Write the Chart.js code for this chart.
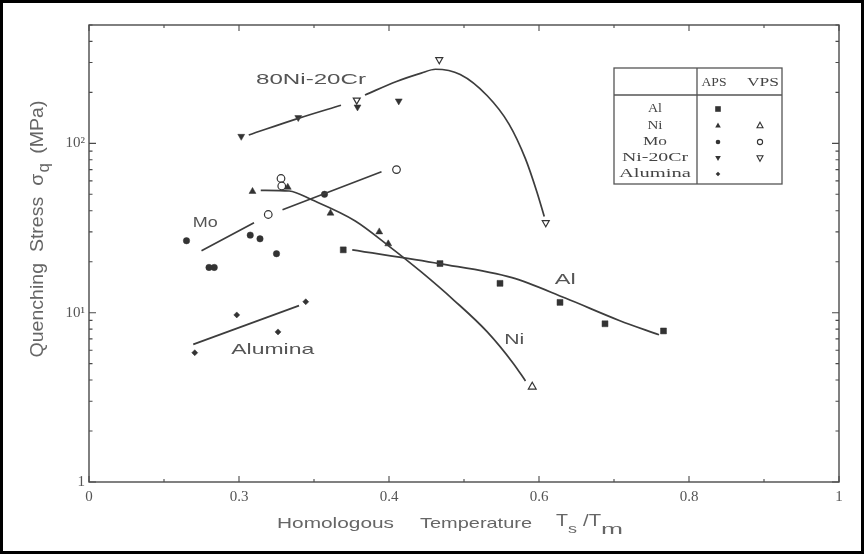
<!DOCTYPE html>
<html>
<head>
<meta charset="utf-8">
<script src="https://cdn.jsdelivr.net/npm/chart.js@4.4.1/dist/chart.umd.min.js"></script>
<style>
html,body{margin:0;padding:0;background:#fff;}
canvas{display:block;}
</style>
</head>
<body>
<canvas id="c" width="864" height="554"></canvas>
<script>
// ---------------- data ----------------
const xTickValues = [0, 0.2, 0.4, 0.6, 0.8, 1];
const xTickLabels = ['0', '0.3', '0.4', '0.6', '0.8', '1'];
const yTickValues = [1, 10, 100];
const yTickLabels = ['1', '10\u00B9', '10\u00B2'];

// Ni-20Cr
const niCrAPS_x = [0.203, 0.279, 0.358, 0.413];
const niCrAPS_y = [110, 142, 164, 178];
const niCrVPS_x = [0.357, 0.467, 0.609];
const niCrVPS_y = [180, 312, 34];
const niCrFit_x = [0.213, 0.28, 0.336, 0.35, 0.368, 0.41, 0.443, 0.462, 0.495, 0.531, 0.56, 0.582, 0.597, 0.607];
const niCrFit_y = [112, 141, 168, null, 193, 232, 260, 274, 255, 191, 130, 81, 52, 37];

// Ni
const niAPS_x = [0.218, 0.265, 0.322, 0.387, 0.399];
const niAPS_y = [52, 55, 38.7, 30, 25.5];
const niVPS_x = [0.591];
const niVPS_y = [3.65];
const niFit_x = [0.229, 0.267, 0.297, 0.355, 0.399, 0.443, 0.487, 0.531, 0.566, 0.582];
const niFit_y = [52.8, 52.3, 46.4, 34.8, 24.9, 17.4, 11.8, 7.7, 5.0, 3.95];

// Mo
const moAPS_x = [0.130, 0.160, 0.167, 0.215, 0.228, 0.250, 0.314];
const moAPS_y = [26.6, 18.5, 18.5, 28.7, 27.3, 22.3, 50];
const moVPS_x = [0.239, 0.256, 0.257, 0.410];
const moVPS_y = [38, 62, 56, 70];
const moFit_x = [0.150, 0.220, 0.235, 0.258, 0.390];
const moFit_y = [23.2, 34, null, 40.5, 68];

// Al
const alAPS_x = [0.339, 0.468, 0.548, 0.628, 0.688, 0.766];
const alAPS_y = [23.5, 19.5, 14.9, 11.5, 8.6, 7.8];
const alFit_x = [0.351, 0.467, 0.564, 0.635, 0.707, 0.760];
const alFit_y = [23.5, 19.5, 16.1, 12.2, 9.0, 7.4];

// Alumina
const aluAPS_x = [0.141, 0.197, 0.252, 0.289];
const aluAPS_y = [5.8, 9.7, 7.7, 11.6];
const aluFit_x = [0.139, 0.280];
const aluFit_y = [6.5, 11.0];

// curve labels (anchored in data units)
const curveLabels = ['80Ni-20Cr', 'Mo', 'Alumina', 'Ni', 'Al'];
const curveLabel_x = [0.296, 0.155, 0.245, 0.567, 0.635];
const curveLabel_y = [237, 33.9, 6.0, 6.9, 15.6];

// legend table rows
const legendRows = ['Al', 'Ni', 'Mo', 'Ni-20Cr', 'Alumina'];
const legendAPS = ['rect', 'up', 'circle', 'down', 'diamond'];
const legendVPS = [null, 'up', 'circle', 'down', null];

// ---------------- styling ----------------
const INK = '#333333';
const LINE = '#3d3d3d';
const TEXT = '#555555';

const pts = (xs, ys) => xs.map((x, i) => ({x: x, y: ys[i]}));
const findIdx = (arr, v) => arr.findIndex(t => Math.abs(t - v) < 1e-9 * Math.max(1, Math.abs(t)));

function fitLine(xs, ys) {
  return {
    type: 'scatter', data: pts(xs, ys), showLine: true, spanGaps: false,
    borderColor: LINE, borderWidth: 1.7, pointRadius: 0, fill: false,
    cubicInterpolationMode: 'monotone'
  };
}
function markers(xs, ys, style, filled, radius, rotation) {
  return {
    type: 'scatter', data: pts(xs, ys), showLine: false,
    pointStyle: style, pointRotation: rotation || 0, pointRadius: radius,
    pointBackgroundColor: filled ? INK : '#ffffff',
    pointBorderColor: INK, pointBorderWidth: filled ? 0.5 : 1.2
  };
}

function stretchText(ctx, str, cx, cy, font, targetW, align) {
  ctx.save();
  ctx.font = font;
  const w = ctx.measureText(str).width;
  const sx = targetW ? targetW / w : 1.45;
  ctx.translate(cx, cy);
  ctx.scale(sx, 1);
  ctx.textAlign = align || 'center';
  ctx.textBaseline = 'middle';
  ctx.fillText(str, 0, 0);
  ctx.restore();
  return w * sx;
}

function drawMarker(ctx, style, filled, x, y, r) {
  ctx.save();
  ctx.beginPath();
  if (style === 'rect') ctx.rect(x - r, y - r, 2 * r, 2 * r);
  else if (style === 'circle') ctx.arc(x, y, r, 0, Math.PI * 2);
  else if (style === 'up') { ctx.moveTo(x, y - r * 1.1); ctx.lineTo(x + r, y + r * 0.75); ctx.lineTo(x - r, y + r * 0.75); ctx.closePath(); }
  else if (style === 'down') { ctx.moveTo(x, y + r * 1.1); ctx.lineTo(x + r, y - r * 0.75); ctx.lineTo(x - r, y - r * 0.75); ctx.closePath(); }
  else if (style === 'diamond') { ctx.moveTo(x, y - r); ctx.lineTo(x + r, y); ctx.lineTo(x, y + r); ctx.lineTo(x - r, y); ctx.closePath(); }
  if (filled) { ctx.fillStyle = INK; ctx.fill(); }
  else { ctx.fillStyle = '#fff'; ctx.fill(); ctx.lineWidth = 1.1; ctx.strokeStyle = INK; ctx.stroke(); }
  ctx.restore();
}

const decor = {
  id: 'decor',
  beforeDraw(chart) {
    const ctx = chart.ctx;
    ctx.save();
    ctx.fillStyle = '#fff';
    ctx.fillRect(0, 0, chart.width, chart.height);
    ctx.restore();
  },
  afterDraw(chart) {
    const ctx = chart.ctx;
    const a = chart.chartArea;
    const xs = chart.scales.x, ys = chart.scales.y;
    ctx.save();
    // frame
    ctx.strokeStyle = '#4a4a4a';
    ctx.lineWidth = 1.4;
    ctx.strokeRect(a.left, a.top, a.right - a.left, a.bottom - a.top);
    // inward ticks, x
    ctx.lineWidth = 1.1;
    for (let k = 0; k <= 10; k++) {
      const v = k / 10;
      const px = xs.getPixelForValue(v);
      const len = (k % 2 === 0) ? 6 : 3;
      ctx.beginPath();
      ctx.moveTo(px, a.bottom); ctx.lineTo(px, a.bottom - len);
      ctx.moveTo(px, a.top); ctx.lineTo(px, a.top + len);
      ctx.stroke();
    }
    // x tick labels (positioned by the x scale)
    ctx.fillStyle = '#555';
    ctx.font = '15px "Liberation Serif"';
    ctx.textAlign = 'center';
    ctx.textBaseline = 'top';
    for (let i = 0; i < xTickValues.length; i++) {
      ctx.fillText(xTickLabels[i], xs.getPixelForValue(xTickValues[i]), a.bottom + 8);
    }
    // inward ticks, y (log)
    for (let d = 1; d <= 100; d *= 10) {
      for (let m = 1; m <= 9; m++) {
        const v = d * m;
        if (v > ys.max) break;
        const py = ys.getPixelForValue(v);
        const len = (m === 1) ? 7 : 3.5;
        ctx.beginPath();
        ctx.moveTo(a.left, py); ctx.lineTo(a.left + len, py);
        ctx.moveTo(a.right, py); ctx.lineTo(a.right - len, py);
        ctx.stroke();
      }
    }
    // curve labels
    ctx.fillStyle = TEXT;
    const lblFont = ['15px "Liberation Sans"', '14px "Liberation Sans"', '15px "Liberation Sans"', '15px "Liberation Sans"', '15px "Liberation Sans"'];
    const lblW = [110, 25, 83, 20, 21];
    for (let i = 0; i < curveLabels.length; i++) {
      stretchText(ctx, curveLabels[i], xs.getPixelForValue(curveLabel_x[i]), ys.getPixelForValue(curveLabel_y[i]), lblFont[i], lblW[i]);
    }
    // legend table
    const L = 614, R = 782, T = 68, B = 184, HL = 95, VL = 697;
    ctx.strokeStyle = '#555';
    ctx.lineWidth = 1.3;
    ctx.strokeRect(L, T, R - L, B - T);
    ctx.beginPath();
    ctx.moveTo(L, HL); ctx.lineTo(R, HL);
    ctx.moveTo(VL, T); ctx.lineTo(VL, B);
    ctx.stroke();
    ctx.fillStyle = '#444';
    stretchText(ctx, 'APS', 714, 83, '13px "Liberation Serif"', 25);
    stretchText(ctx, 'VPS', 763, 83, '13px "Liberation Serif"', 32);
    const rowY = [109, 125.5, 142, 158, 174];
    const rowW = [14, 15, 24, 66, 72];
    for (let i = 0; i < legendRows.length; i++) {
      ctx.fillStyle = '#444';
      stretchText(ctx, legendRows[i], 655, rowY[i], '13px "Liberation Serif"', rowW[i], 'center');
      if (legendAPS[i]) drawMarker(ctx, legendAPS[i], true, 718, rowY[i], legendAPS[i] === 'circle' || legendAPS[i] === 'diamond' ? 2.3 : 2.8);
      if (legendVPS[i]) drawMarker(ctx, legendVPS[i], false, 760, rowY[i], legendVPS[i] === 'circle' ? 2.6 : 3.0);
    }
    // axis titles
    ctx.fillStyle = '#666';
    stretchText(ctx, 'Homologous', 277, 524, '15px "Liberation Sans"', 117, 'left');
    stretchText(ctx, 'Temperature', 420, 524, '15px "Liberation Sans"', 112, 'left');
    stretchText(ctx, 'T', 556, 522, '16px "Liberation Sans"', 12, 'left');
    stretchText(ctx, 's', 568, 530, '12px "Liberation Sans"', 9, 'left');
    stretchText(ctx, '/T', 583, 522, '16px "Liberation Sans"', 18, 'left');
    stretchText(ctx, 'm', 601, 530, '15px "Liberation Sans"', 22, 'left');
    // y title (rotated)
    ctx.save();
    ctx.translate(38, 229);
    ctx.font = '14px "Liberation Sans"';
    const ytxt = 'Quenching  Stress  \u03C3';
    const wq = ctx.measureText(ytxt).width;
    ctx.scale(1.35, 1);
    ctx.rotate(-Math.PI / 2);
    const total = 257;
    const part2 = '  (MPa)';
    const w2 = ctx.measureText(part2).width;
    const wsub = ctx.measureText('q').width * 0.85;
    const sy = total / (wq + wsub + w2);
    ctx.scale(sy, 1);
    ctx.textBaseline = 'middle';
    ctx.textAlign = 'left';
    const x0 = -(wq + wsub + w2) / 2;
    ctx.fillText(ytxt, x0, 0);
    ctx.save();
    ctx.font = '12px "Liberation Sans"';
    ctx.fillText('q', x0 + wq + 1, 5);
    ctx.restore();
    ctx.fillText(part2, x0 + wq + wsub, 0);
    ctx.restore();
    // outer border
    ctx.strokeStyle = '#000';
    ctx.lineWidth = 3;
    ctx.strokeRect(1.5, 1.5, chart.width - 3, chart.height - 3);
    ctx.restore();
  }
};

const chart = new Chart(document.getElementById('c'), {
  type: 'scatter',
  data: {
    datasets: [
      fitLine(niCrFit_x, niCrFit_y),
      fitLine(niFit_x, niFit_y),
      fitLine(moFit_x, moFit_y),
      fitLine(alFit_x, alFit_y),
      fitLine(aluFit_x, aluFit_y),
      markers(niCrAPS_x, niCrAPS_y, 'triangle', true, 4, 180),
      markers(niCrVPS_x, niCrVPS_y, 'triangle', false, 4, 180),
      markers(niAPS_x, niAPS_y, 'triangle', true, 4, 0),
      markers(niVPS_x, niVPS_y, 'triangle', false, 4.5, 0),
      markers(moAPS_x, moAPS_y, 'circle', true, 3.2, 0),
      markers(moVPS_x, moVPS_y, 'circle', false, 3.8, 0),
      markers(alAPS_x, alAPS_y, 'rect', true, 4.2, 0),
      markers(aluAPS_x, aluAPS_y, 'rectRot', true, 3.0, 0)
    ]
  },
  options: {
    responsive: false,
    animation: false,
    devicePixelRatio: 1,
    layout: {padding: {left: 0, right: 25, top: 25, bottom: 0}},
    plugins: {legend: {display: false}, tooltip: {enabled: false}},
    scales: {
      x: {
        type: 'linear', min: 0, max: 1,
        afterBuildTicks: s => { s.ticks = xTickValues.map(v => ({value: v})); },
        afterFit: s => { s.height = 554 - 482; },
        ticks: {display: false},
        grid: {display: false, drawTicks: false},
        border: {display: false}
      },
      y: {
        type: 'logarithmic', min: 1, max: 500,
        afterBuildTicks: s => { s.ticks = yTickValues.map(v => ({value: v})); },
        afterFit: s => { s.width = 89; },
        ticks: {
          autoSkip: false, padding: 4, color: '#555',
          font: {family: '"Liberation Serif"', size: 15},
          callback: v => { const i = findIdx(yTickValues, v); return i >= 0 ? yTickLabels[i] : ''; }
        },
        grid: {display: false, drawTicks: false},
        border: {display: false}
      }
    }
  },
  plugins: [decor]
});
</script>
</body>
</html>
